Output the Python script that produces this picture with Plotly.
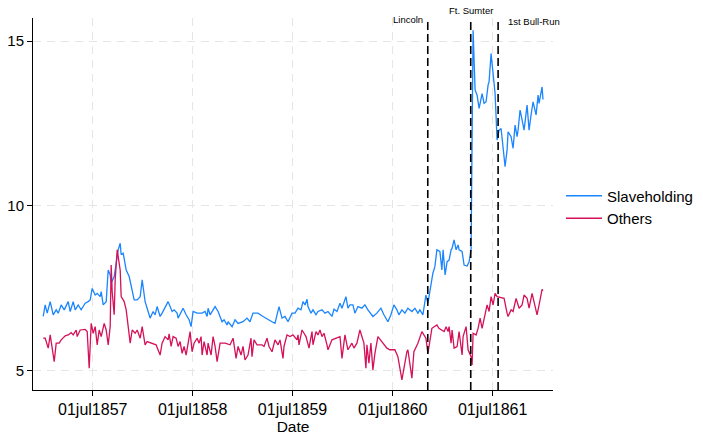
import pandas as pd
import plotly.graph_objects as go

# Weekly price index, decimal-year time stamps
slave_t = [
    1857.00, 1857.02, 1857.04, 1857.07, 1857.10, 1857.13, 1857.15, 1857.18, 1857.21, 1857.25,
    1857.27, 1857.30, 1857.32, 1857.35, 1857.38, 1857.42, 1857.45, 1857.47, 1857.49, 1857.52,
    1857.54, 1857.57, 1857.58, 1857.60, 1857.63, 1857.65, 1857.67, 1857.68, 1857.71, 1857.73,
    1857.75, 1857.77, 1857.78, 1857.80, 1857.83, 1857.86, 1857.88, 1857.91, 1857.94, 1857.97,
    1857.99, 1858.02, 1858.05, 1858.07, 1858.10, 1858.12, 1858.14, 1858.17, 1858.19, 1858.23,
    1858.25, 1858.27, 1858.29, 1858.31, 1858.34, 1858.35, 1858.39, 1858.40, 1858.43, 1858.46,
    1858.48, 1858.50, 1858.54, 1858.59, 1858.62, 1858.64, 1858.65, 1858.67, 1858.72, 1858.75,
    1858.79, 1858.81, 1858.84, 1858.85, 1858.89, 1858.92, 1858.95, 1859.00, 1859.04, 1859.07,
    1859.10, 1859.15, 1859.20, 1859.24, 1859.29, 1859.32, 1859.36, 1859.39, 1859.42, 1859.45,
    1859.49, 1859.52, 1859.55, 1859.58, 1859.60, 1859.62, 1859.64, 1859.65, 1859.68, 1859.70,
    1859.73, 1859.75, 1859.79, 1859.82, 1859.85, 1859.89, 1859.91, 1859.94, 1859.97, 1859.99,
    1860.03, 1860.05, 1860.07, 1860.10, 1860.12, 1860.15, 1860.19, 1860.22, 1860.25, 1860.30,
    1860.34, 1860.38, 1860.41, 1860.45, 1860.48, 1860.51, 1860.54, 1860.56, 1860.59, 1860.62,
    1860.65, 1860.69, 1860.72, 1860.75, 1860.77, 1860.80, 1860.83, 1860.85, 1860.87, 1860.90,
    1860.92, 1860.94, 1860.97, 1860.99, 1861.00, 1861.02, 1861.04, 1861.06, 1861.08, 1861.09,
    1861.11, 1861.13, 1861.15, 1861.16, 1861.19, 1861.21, 1861.24, 1861.26, 1861.28, 1861.30,
    1861.32, 1861.34, 1861.36, 1861.39, 1861.41, 1861.43, 1861.45, 1861.46, 1861.48, 1861.50,
    1861.52, 1861.54, 1861.56, 1861.58, 1861.60, 1861.62, 1861.64, 1861.65, 1861.68, 1861.70,
    1861.72, 1861.74, 1861.75, 1861.77, 1861.79, 1861.81, 1861.84, 1861.86, 1861.88, 1861.90,
    1861.93, 1861.95, 1861.96, 1861.99, 1862.00,
]
slave_v = [
    6.65, 7.00, 6.75, 7.10, 6.70, 6.85, 6.75, 7.00, 6.85, 7.10,
    6.80, 7.10, 6.85, 7.00, 6.85, 7.05, 7.10, 7.15, 7.50, 7.30,
    7.35, 7.25, 7.40, 7.00, 7.10, 8.06, 7.91, 7.66, 7.86, 8.26,
    8.67, 8.87, 8.52, 8.57, 8.06, 7.86, 7.55, 7.15, 7.15, 7.25,
    7.76, 7.10, 6.80, 6.60, 6.80, 6.70, 6.95, 6.65, 6.75, 7.00,
    7.10, 6.95, 6.80, 6.85, 6.75, 6.60, 6.85, 6.90, 6.70, 6.55,
    6.34, 6.80, 6.75, 6.75, 6.80, 6.65, 6.90, 6.70, 6.95, 6.80,
    6.49, 6.55, 6.39, 6.49, 6.34, 6.55, 6.44, 6.49, 6.60, 6.49,
    6.75, 6.75, 6.65, 6.57, 6.49, 6.44, 6.95, 6.60, 6.65, 6.49,
    6.75, 6.75, 6.90, 6.85, 7.10, 7.00, 7.17, 6.95, 6.75, 6.85,
    6.70, 6.80, 6.85, 6.75, 6.80, 6.65, 6.87, 6.80, 7.05, 6.90,
    7.25, 6.90, 7.00, 7.00, 6.75, 6.95, 6.90, 7.00, 6.85, 6.65,
    6.75, 6.90, 6.70, 6.49, 6.70, 7.00, 6.85, 6.70, 6.85, 6.75,
    6.90, 6.80, 6.90, 6.75, 6.85, 6.70, 7.30, 7.05, 7.45, 7.96,
    8.16, 8.67, 8.62, 8.06, 8.67, 7.91, 8.31, 8.36, 8.67, 8.72,
    8.97, 8.67, 8.82, 8.67, 8.62, 8.21, 8.18, 8.31, 8.67, 15.33,
    13.52, 13.36, 12.96, 13.41, 13.11, 13.16, 13.67, 13.77, 14.62, 13.97,
    13.41, 12.00, 12.30, 12.35, 11.80, 11.19, 11.70, 12.25, 12.10, 11.75,
    12.45, 12.10, 12.30, 12.91, 12.61, 12.30, 13.06, 12.30, 12.76, 13.16,
    12.76, 13.36, 13.11, 13.61, 13.23,
]

other_t = [
    1857.00, 1857.02, 1857.05, 1857.07, 1857.11, 1857.13, 1857.16, 1857.18, 1857.22, 1857.25,
    1857.28, 1857.30, 1857.33, 1857.34, 1857.37, 1857.42, 1857.44, 1857.46, 1857.48, 1857.50,
    1857.52, 1857.54, 1857.56, 1857.58, 1857.61, 1857.63, 1857.65, 1857.67, 1857.68, 1857.69,
    1857.71, 1857.72, 1857.74, 1857.77, 1857.78, 1857.81, 1857.83, 1857.85, 1857.87, 1857.89,
    1857.92, 1857.94, 1857.97, 1857.99, 1858.02, 1858.04, 1858.08, 1858.13, 1858.17, 1858.19,
    1858.22, 1858.25, 1858.26, 1858.28, 1858.30, 1858.33, 1858.35, 1858.37, 1858.39, 1858.41,
    1858.43, 1858.45, 1858.47, 1858.49, 1858.51, 1858.54, 1858.56, 1858.58, 1858.59, 1858.61,
    1858.64, 1858.65, 1858.68, 1858.70, 1858.72, 1858.74, 1858.77, 1858.82, 1858.87, 1858.90,
    1858.93, 1858.95, 1858.98, 1859.00, 1859.02, 1859.05, 1859.08, 1859.09, 1859.11, 1859.14,
    1859.19, 1859.21, 1859.24, 1859.26, 1859.29, 1859.32, 1859.35, 1859.37, 1859.40, 1859.41,
    1859.44, 1859.47, 1859.50, 1859.54, 1859.55, 1859.56, 1859.59, 1859.61, 1859.63, 1859.66,
    1859.69, 1859.70, 1859.73, 1859.75, 1859.77, 1859.79, 1859.81, 1859.84, 1859.85, 1859.89,
    1859.94, 1859.97, 1859.99, 1860.02, 1860.05, 1860.09, 1860.11, 1860.14, 1860.17, 1860.20,
    1860.21, 1860.23, 1860.24, 1860.26, 1860.28, 1860.30, 1860.32, 1860.35, 1860.39, 1860.44,
    1860.47, 1860.52, 1860.55, 1860.59, 1860.64, 1860.65, 1860.69, 1860.71, 1860.75, 1860.79,
    1860.83, 1860.85, 1860.89, 1860.91, 1860.94, 1860.96, 1860.99, 1861.01, 1861.03, 1861.05,
    1861.06, 1861.08, 1861.09, 1861.11, 1861.14, 1861.16, 1861.19, 1861.20, 1861.23, 1861.25,
    1861.28, 1861.29, 1861.30, 1861.33, 1861.35, 1861.37, 1861.39, 1861.42, 1861.44, 1861.46,
    1861.48, 1861.50, 1861.52, 1861.54, 1861.59, 1861.61, 1861.64, 1861.65, 1861.68, 1861.70,
    1861.73, 1861.76, 1861.79, 1861.81, 1861.84, 1861.86, 1861.89, 1861.91, 1861.94, 1861.97,
    1861.99, 1862.00,
]
other_v = [
    5.99, 5.99, 5.69, 6.09, 5.28, 5.84, 5.84, 5.94, 6.06, 6.09,
    6.16, 6.09, 6.24, 6.04, 6.24, 6.26, 6.19, 5.08, 6.44, 6.14,
    6.34, 5.79, 6.24, 6.04, 6.44, 6.24, 5.79, 6.34, 8.21, 7.40,
    6.70, 7.76, 8.67, 8.06, 7.25, 7.10, 6.85, 6.34, 5.84, 6.24,
    6.14, 6.24, 5.99, 6.34, 5.79, 5.89, 5.84, 5.79, 5.48, 5.84,
    6.04, 5.94, 6.12, 5.74, 6.04, 5.99, 5.74, 5.89, 5.53, 5.74,
    5.48, 5.84, 6.19, 5.58, 5.84, 5.99, 5.84, 6.04, 5.48, 5.89,
    5.48, 5.84, 5.48, 6.04, 5.74, 5.28, 5.84, 5.84, 5.79, 5.99,
    5.38, 5.74, 5.48, 5.74, 5.33, 5.48, 5.99, 5.43, 5.94, 5.79,
    5.79, 5.74, 5.99, 5.74, 5.58, 5.94, 5.79, 5.94, 5.38, 5.74,
    6.09, 6.04, 6.09, 5.94, 6.09, 5.79, 6.24, 6.14, 6.04, 5.69,
    6.19, 5.79, 6.19, 6.09, 6.24, 6.04, 6.14, 5.79, 5.64, 5.94,
    5.99, 6.04, 5.38, 6.09, 5.64, 5.84, 5.69, 5.84, 6.24, 5.89,
    5.84, 5.08, 5.79, 5.23, 5.84, 5.03, 5.53, 6.04, 5.89, 5.69,
    5.64, 5.64, 5.43, 4.73, 5.58, 5.64, 4.78, 5.58, 5.84, 6.19,
    5.99, 5.53, 6.29, 6.34, 6.39, 6.29, 6.24, 6.19, 6.34, 6.19,
    6.34, 5.84, 6.24, 5.69, 5.74, 6.19, 5.48, 6.04, 6.34, 5.64,
    5.43, 5.18, 6.14, 6.09, 6.29, 6.60, 6.29, 6.75, 7.00, 6.80,
    7.25, 7.00, 7.35, 7.25, 7.20, 7.20, 6.75, 6.65, 6.85, 6.80,
    7.20, 6.90, 7.00, 7.30, 7.20, 6.90, 7.35, 7.05, 6.70, 7.15,
    7.47, 7.43,
]

# Events marked with vertical reference lines
event_dates = ["1860-11-06", "1861-04-12", "1861-07-21"]
event_labels = ["Lincoln", "Ft. Sumter", "1st Bull-Run"]

tick_dates = ["1857-07-01", "1858-07-01", "1859-07-01", "1860-07-01", "1861-07-01"]
tick_labels = ["01jul1857", "01jul1858", "01jul1859", "01jul1860", "01jul1861"]


def to_date(t):
    year = int(t)
    frac = t - year
    return pd.Timestamp(year=year, month=1, day=1) + pd.Timedelta(days=frac * 365.25)


FONT = "Arial, Liberation Sans, sans-serif"
BLUE = "#1a85ff"
RED = "#d41159"

fig = go.Figure()
fig.add_trace(go.Scatter(
    x=[to_date(t) for t in slave_t], y=slave_v, mode="lines", name="Slaveholding",
    line=dict(color=BLUE, width=1.3),
))
fig.add_trace(go.Scatter(
    x=[to_date(t) for t in other_t], y=other_v, mode="lines", name="Others",
    line=dict(color=RED, width=1.3),
))

for d in event_dates:
    fig.add_shape(type="line", xref="x", yref="paper", x0=d, x1=d, y0=0, y1=1,
                  line=dict(color="black", width=1.6, dash="8px,4px"))

# Event labels
fig.add_annotation(x=event_dates[0], y=0.997, xref="x", yref="paper", text=event_labels[0],
                   showarrow=False, xanchor="right", yanchor="middle", xshift=-3,
                   font=dict(family=FONT, size=9.5, color="black"))
fig.add_annotation(x=event_dates[1], y=1.02, xref="x", yref="paper", text=event_labels[1],
                   showarrow=False, xanchor="center", yanchor="middle",
                   font=dict(family=FONT, size=9.5, color="black"))
fig.add_annotation(x=event_dates[2], y=0.99, xref="x", yref="paper", text=event_labels[2],
                   showarrow=False, xanchor="left", yanchor="middle", xshift=8,
                   font=dict(family=FONT, size=9.5, color="black"))

fig.update_layout(
    width=703, height=435,
    margin=dict(l=33, r=150, t=18, b=45, autoexpand=False),
    paper_bgcolor="white", plot_bgcolor="white",
    font=dict(family=FONT, size=15, color="black"),
    showlegend=True,
    legend=dict(x=1.0154, y=0.492, xanchor="left", yanchor="middle",
                font=dict(family=FONT, size=15, color="black"),
                bgcolor="rgba(0,0,0,0)", itemwidth=36, tracegroupgap=0),
)
fig.update_xaxes(
    automargin=False,
    range=[to_date(1856.90), to_date(1862.10)],
    tickmode="array", tickvals=tick_dates, ticktext=tick_labels,
    showline=True, linecolor="black", linewidth=1,
    ticks="outside", ticklen=5, tickcolor="black",
    showgrid=True, gridcolor="#e6e6e6", griddash="8px,6px", gridwidth=1,
    zeroline=False,
    title=dict(text="Date", font=dict(family=FONT, size=15.5), standoff=3),
    tickfont=dict(family=FONT, size=16),
)
fig.update_yaxes(
    automargin=False,
    range=[4.42, 15.70],
    tickvals=[5, 10, 15],
    showline=True, linecolor="black", linewidth=1,
    ticks="outside", ticklen=5, tickcolor="black",
    showgrid=True, gridcolor="#e6e6e6", griddash="8px,6px", gridwidth=1,
    zeroline=False,
    tickfont=dict(family=FONT, size=15),
)

fig.write_html("out.html")
